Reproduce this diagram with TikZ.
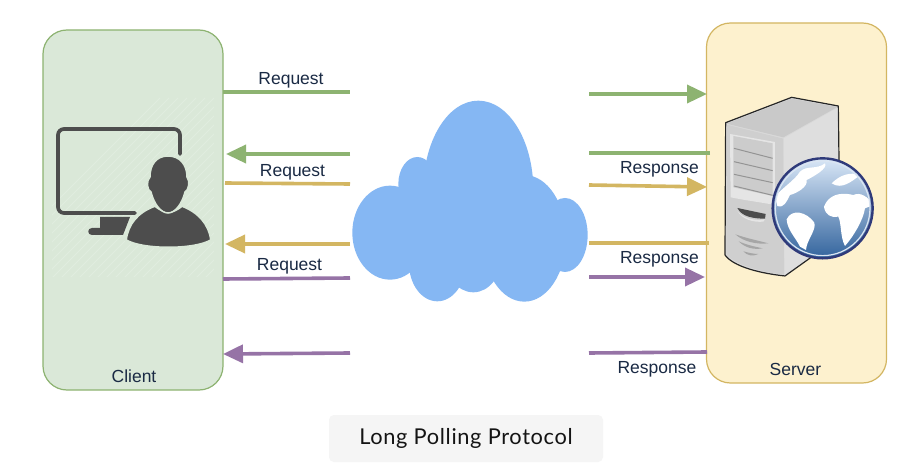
\documentclass[tikz,border=0pt]{standalone}
\usepackage{fontspec}
\setmainfont{Liberation Sans}
\newfontfamily\titlefont[LetterSpace=3]{Lato}
\usetikzlibrary{arrows.meta}
\definecolor{cgreen}{HTML}{8DB371}
\definecolor{cyellow}{HTML}{D3B662}
\definecolor{cpurple}{HTML}{9673A6}
\definecolor{cfill}{HTML}{DAE8D8}
\definecolor{sfill}{HTML}{FDF1CE}
\definecolor{cloudc}{HTML}{85B7F3}
\definecolor{ink}{HTML}{1A2A44}
\definecolor{icon}{HTML}{4D4D4D}
\definecolor{globetop}{HTML}{D8E6F6}
\definecolor{globemid}{HTML}{86A9D3}
\definecolor{globebot}{HTML}{34659E}
\definecolor{globering}{HTML}{2F3A7A}
\tikzset{
  x=1pt,y=-1pt,
  lbl/.style={font=\fontsize{17.5}{20}\selectfont,text=ink,inner sep=0pt},
  panel/.style={draw,line width=1.2pt,rounded corners=24pt,minimum width=180pt,minimum height=360pt,inner sep=0pt},
  link/.style={line width=3.6pt},
  headed/.style={link,-{Triangle[length=20pt,width=18pt]}},
}
\begin{document}
\begin{tikzpicture}
\useasboundingbox (0,0) rectangle (898,468);
\fill[white] (0,0) rectangle (898,468);
% panels
\node[panel,draw=cgreen,fill=cfill] (client) at (133,210) {};
\node[panel,draw=cyellow,fill=sfill] (server) at (796.5,203) {};
\node[lbl] (clientlbl) at (134,376) {Client};
\node[lbl] (serverlbl) at (795.5,369) {Server};
% hatch
\begin{scope}
\clip (52,98) rectangle (214,276);
\foreach \i in {0,9,...,360}{\draw[white!55!cfill,line width=0.9pt,opacity=.35] (\i,98) ++(-20,180) -- ++(180,-180);}
\end{scope}
% user icon
\draw[icon,line width=3.7pt,line cap=round,rounded corners=6pt] (180,154) -- (180,129) -- (58,129) -- (58,213) -- (135,213);
\fill[icon] (100,217) -- (130,217) -- (123,235) -- (92,235) .. controls (87,235) and (87,228) .. (92,228) -- (100,228) -- cycle;
\fill[icon,draw=cfill,line width=2pt] (126,240) .. controls (128,224) and (138,212) .. (155,206) .. controls (165,214) and (172,214) .. (182,206) .. controls (198,212) and (209,224) .. (211,240) .. controls (195,250) and (142,250) .. (126,240) -- cycle;
\fill[icon,draw=cfill,line width=1.5pt] (168,156) .. controls (180,156) and (187,165) .. (187,177) .. controls (190,181) and (189,190) .. (185,192) .. controls (182,204) and (175,213) .. (168,213) .. controls (161,213) and (154,204) .. (151,192) .. controls (147,190) and (146,181) .. (150,177) .. controls (150,165) and (156,156) .. (168,156) -- cycle;
% cloud
\begin{scope}[shift={(340,90)},x=0.3333pt,y=-0.3333pt]
\fill[cloudc] (415,300) ellipse[x radius=165,y radius=268];
\fill[cloudc] (150,428) ellipse[x radius=113,y radius=141];
\fill[cloudc] (232,282) ellipse[x radius=57,y radius=81];
\fill[cloudc] (553,445) ellipse[x radius=125,y radius=190];
\fill[cloudc] (675,435) ellipse[x radius=68,y radius=111];
\fill[cloudc] (292,520) ellipse[x radius=85,y radius=114];
\fill[cloudc] (400,500) ellipse[x radius=85,y radius=107];
\fill[cloudc] (200,300) rectangle (600,520);
\end{scope}
% server
\begin{scope}[shift={(700,80)},x=0.3333pt,y=-0.3333pt]
\fill[black!15,draw=black!85,line width=1.2pt,line join=round] (77,128) -- (275,52) -- (415,78) -- (420,470) -- (255,588) .. controls (180,580) and (100,560) .. (75,525) -- cycle;
\fill[black!21] (80,131) -- (275,56) -- (412,81) -- (250,172) -- cycle;
\fill[black!13] (250,176) -- (412,84) -- (417,468) -- (254,584) -- cycle;
\fill[black!19] (80,134) -- (250,176) -- (252,584) .. controls (180,575) and (105,555) .. (79,522) -- cycle;
\fill[black!10] (90,162) -- (225,186) -- (225,375) .. controls (170,365) and (130,360) .. (92,352) -- cycle;
\fill[black!20] (100,168) -- (218,190) -- (218,348) -- (100,322) -- cycle;
\foreach \a/\b in {205/235,245/272,283/308,318/346}{\draw[black!42,line width=1pt] (102,\a) -- (218,\b);}
\fill[black!70] (112,384) -- (197,402) -- (195,416) .. controls (160,416) and (125,410) .. (112,384) -- cycle;
\fill[black!10] (112,392) .. controls (125,412) and (160,424) .. (195,418) -- (190,425) .. controls (160,428) and (125,418) .. (112,392) -- cycle;
\fill[black!35] (106,463) .. controls (140,475) and (175,482) .. (205,490) .. controls (170,494) and (130,485) .. (106,463) -- cycle;
\fill[black!35] (116,484) .. controls (140,495) and (165,500) .. (188,505) .. controls (160,510) and (135,503) .. (116,484) -- cycle;
\fill[black!35] (130,514) .. controls (145,518) and (160,522) .. (175,522) .. controls (160,530) and (140,527) .. (130,514) -- cycle;
% globe
\shade[top color=globetop,middle color=globemid,bottom color=globebot] (368,385) circle[radius=148];
\begin{scope}
\clip (368,385) circle[radius=143];
\fill[white] (225,350) .. controls (245,325) and (285,300) .. (300,275) .. controls (320,255) and (350,270) .. (375,250) .. controls (385,265) and (340,290) .. (320,300) .. controls (325,320) and (290,340) .. (270,345) .. controls (260,365) and (252,385) .. (232,378) -- cycle;
\fill[white] (260,418) .. controls (275,385) and (320,395) .. (343,428) .. controls (350,450) and (320,480) .. (318,510) -- (300,500) .. controls (285,470) and (262,450) .. (260,418) -- cycle;
\fill[white] (372,380) .. controls (385,345) and (420,335) .. (460,345) .. controls (480,335) and (505,350) .. (520,375) -- (495,385) .. controls (490,420) and (460,470) .. (435,498) .. controls (420,470) and (425,430) .. (415,410) .. controls (395,415) and (375,405) .. (372,380) -- cycle;
\fill[white] (395,310) .. controls (420,285) and (450,275) .. (480,285) .. controls (455,305) and (425,330) .. (395,310) -- cycle;
\end{scope}
\draw[white!70!globemid,line width=1.2pt] (368,385) circle[radius=142];
\draw[globering,line width=2.4pt] (368,385) circle[radius=150];
\end{scope}
% connector ends
\coordinate (a1) at (223,92);   \coordinate (a2) at (350,92);
\coordinate (b1) at (589,94);   \coordinate (b2) at (707,94);
\coordinate (c1) at (710,153);  \coordinate (c2) at (589,153);
\coordinate (d1) at (350,154);  \coordinate (d2) at (226,154);
\coordinate (e1) at (225,183);  \coordinate (e2) at (350,184);
\coordinate (f1) at (589,185);  \coordinate (f2) at (707,187);
\coordinate (g1) at (709,243);  \coordinate (g2) at (589,243);
\coordinate (h1) at (350,244);  \coordinate (h2) at (225,244);
\coordinate (i1) at (223,279);  \coordinate (i2) at (350,278);
\coordinate (j1) at (589,277);  \coordinate (j2) at (705,277);
\coordinate (k1) at (707,352);  \coordinate (k2) at (589,353);
\coordinate (l1) at (350,353);  \coordinate (l2) at (223,354);
\draw[link,cgreen] (a1) -- (a2);
\draw[headed,cgreen] (b1) -- (b2);
\draw[link,cgreen] (c1) -- (c2);
\draw[headed,cgreen] (d1) -- (d2);
\draw[link,cyellow] (e1) -- (e2);
\draw[headed,cyellow] (f1) -- (f2);
\draw[link,cyellow] (g1) -- (g2);
\draw[headed,cyellow] (h1) -- (h2);
\draw[link,cpurple] (i1) -- (i2);
\draw[headed,cpurple] (j1) -- (j2);
\draw[link,cpurple] (k1) -- (k2);
\draw[headed,cpurple] (l1) -- (l2);
% labels
\node[lbl] (r1) at (291,80.5) {Request};
\node[lbl] (r2) at (292.5,172.5) {Request};
\node[lbl] (r3) at (289.5,266.5) {Request};
\node[lbl] (s1) at (659.5,169) {Response};
\node[lbl] (s2) at (659.5,259.5) {Response};
\node[lbl] (s3) at (657,369) {Response};
% title
\node[fill=black!4,rounded corners=5pt,minimum width=274pt,minimum height=47pt,inner sep=0pt] (title) at (466,438.5) {\titlefont\fontsize{21.8}{24}\selectfont\color{black!92} Long Polling Protocol};
\end{tikzpicture}
\end{document}
